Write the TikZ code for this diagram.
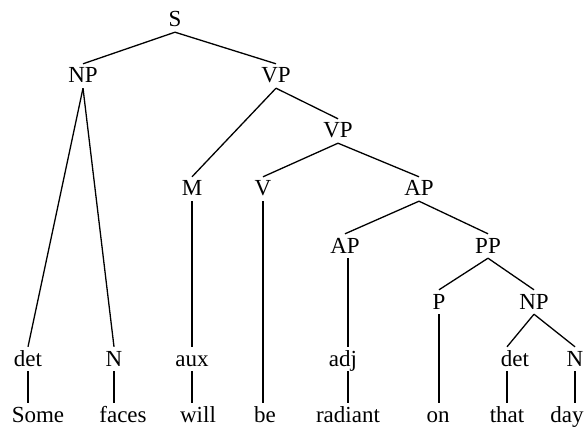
\documentclass[tikz,border=0pt]{standalone}
\usepackage{fontspec}
\setmainfont{Liberation Serif}
\begin{document}
\begin{tikzpicture}[x=1pt,y=-1pt,
  tn/.style={inner sep=0pt, inner ysep=2pt, text height=17pt, text depth=3pt, anchor=base, font=\fontsize{23}{27}\selectfont},
  edge/.style={line width=1.3pt}]
\useasboundingbox (0,0) rectangle (585,430);
% categories
\node[tn] (S) at (175,27) {S};
\node[tn] (NP) at (83,83) {NP};
\node[tn] (VP) at (276,83) {VP};
\node[tn] (VP2) at (338,138) {VP};
\node[tn] (M) at (192,196) {M};
\node[tn] (V) at (263,196) {V};
\node[tn] (AP) at (419,196) {AP};
\node[tn] (AP2) at (345,253) {AP};
\node[tn] (PP) at (488,253) {PP};
\node[tn] (P) at (439,309) {P};
\node[tn] (NP2) at (534,309) {NP};
\node[tn] (det) at (28,366) {det};
\node[tn] (N) at (114,366) {N};
\node[tn] (aux) at (192,366) {aux};
\node[tn] (adj) at (343,366) {adj};
\node[tn] (det2) at (515,366) {det};
\node[tn] (N2) at (575,366) {N};
% words
\node[tn] (Some) at (38,422) {Some};
\node[tn] (faces) at (123,422) {faces};
\node[tn] (will) at (198,422) {will};
\node[tn] (be) at (265,422) {be};
\node[tn] (radiant) at (348,422) {radiant};
\node[tn] (on) at (438,422) {on};
\node[tn] (that) at (507,422) {that};
\node[tn] (day) at (567,422) {day};
% branches
\draw[edge] (S.south) -- (NP.north);
\draw[edge] (S.south) -- (VP.north);
\draw[edge] (NP.south) -- (det.north);
\draw[edge] (NP.south) -- (N.north);
\draw[edge] (VP.south) -- (M.north);
\draw[edge] (VP.south) -- (VP2.north);
\draw[edge] (VP2.south) -- (V.north);
\draw[edge] (VP2.south) -- (AP.north);
\draw[edge] (AP.south) -- (AP2.north);
\draw[edge] (AP.south) -- (PP.north);
\draw[edge] (PP.south) -- (P.north);
\draw[edge] (PP.south) -- (NP2.north);
\draw[edge] (NP2.south) -- (det2.north -| that.north);
\draw[edge] (NP2.south) -- (N2.north);
% vertical lines
\draw[edge] (M.south) -- (M.south |- aux.north);
\draw[edge] (V.south) -- (V.south |- be.north);
\draw[edge] (AP2.south -| radiant.north) -- (adj.north -| radiant.north);
\draw[edge] (P.south) -- (P.south |- on.north);
\draw[edge] (det.south) -- (det.south |- Some.north);
\draw[edge] (N.south) -- (N.south |- faces.north);
\draw[edge] (aux.south) -- (aux.south |- will.north);
\draw[edge] (adj.south -| radiant.north) -- (radiant.north);
\draw[edge] (det2.south -| that.north) -- (that.north);
\draw[edge] (N2.south) -- (N2.south |- day.north);
\end{tikzpicture}
\end{document}
